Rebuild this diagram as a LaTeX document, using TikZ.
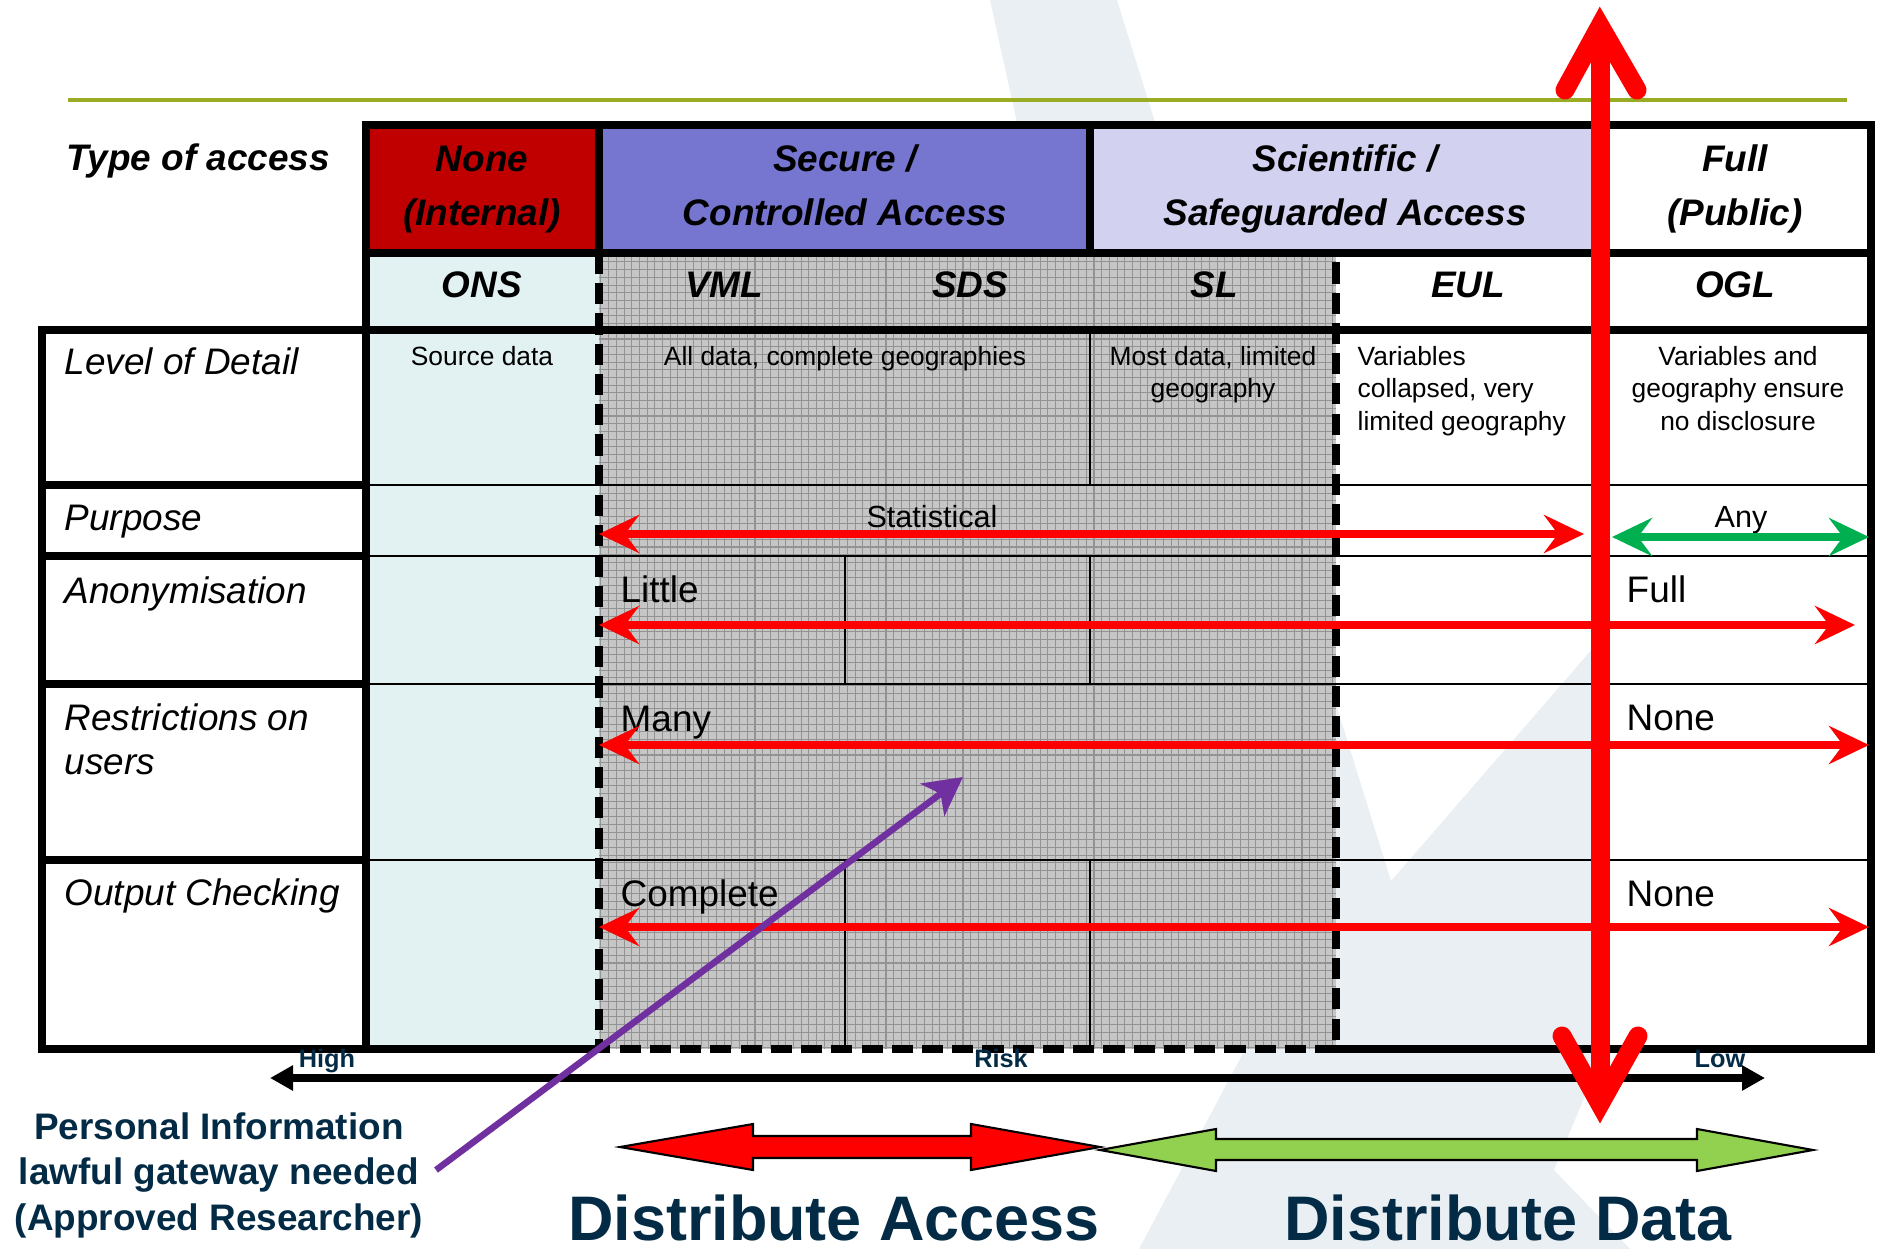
\documentclass[tikz,border=0pt]{standalone}
\usepackage{fontspec}
\setmainfont{Liberation Sans}
\usetikzlibrary{arrows.meta}
\definecolor{nonered}{HTML}{C00000}
\definecolor{securebl}{HTML}{7676D1}
\definecolor{scientbl}{HTML}{D2D2F0}
\definecolor{onscyan}{HTML}{E2F2F2}
\definecolor{safegrey}{HTML}{C6C6C6}
\definecolor{gridgrey}{HTML}{939393}
\definecolor{ruleolive}{HTML}{9AAC24}
\definecolor{anygreen}{HTML}{00B050}
\definecolor{gatepurple}{HTML}{7030A0}
\definecolor{navy}{HTML}{032B45}
\definecolor{datagreen}{HTML}{92D050}
\definecolor{markgrey}{HTML}{EAEFF3}
\tikzset{
  redhead/.tip={Stealth[length=4mm,width=3.8mm,inset=1.4mm]},
  riskhead/.tip={Triangle[length=2.3mm,width=2.4mm]},
  gatehead/.tip={Stealth[length=3.8mm,width=4mm,inset=1mm]},
  thickrule/.style={line width=2.3pt, line cap=rect},
  thinrule/.style={line width=0.7pt},
  dashrule/.style={line width=2.3pt, dash pattern=on 6pt off 2.6pt},
  headtext/.style={font=\fontsize{10.5}{15.6}\selectfont\bfseries\itshape, align=center, anchor=base, inner sep=0pt},
  rowtext/.style={font=\fontsize{10.5}{12.5}\selectfont\itshape, align=left, anchor=base west, inner sep=0pt},
  smalltext/.style={font=\fontsize{7.5}{9.1}\selectfont, align=center, anchor=base, inner sep=0pt},
  celltext/.style={font=\fontsize{10.5}{12.6}\selectfont, anchor=base west, inner sep=0pt},
  risktext/.style={font=\fontsize{7.2}{8}\selectfont\bfseries, text=navy, anchor=base, inner sep=0pt},
  redarrow/.style={red, line width=2.3pt, redhead-redhead},
  bigred/.style={red, line width=5.4pt, line cap=round, line join=miter},
  blockarrow/.style={draw=black, line width=0.6pt}
}
\begin{document}
\begin{tikzpicture}[x=0.01cm, y=-0.01cm]
\useasboundingbox (0,0) rectangle (1879,1249);

% faint watermark behind the table
\fill[markgrey] (990,0) -- (1117,0) -- (1391,881) -- (1600,640) -- (1600,1060) -- (1554,1170) -- (1630,1249) -- (1139,1249) -- (1250,1040) -- (1100,500) -- cycle;
\draw[ruleolive, line width=0.9pt] (68,100) -- (1847,100);

% cell fills
\fill[nonered] (366,125) rectangle (599,253);
\fill[securebl] (599,125) rectangle (1090,253);
\fill[scientbl] (1090,125) rectangle (1600,253);
\fill[onscyan] (366,253) rectangle (599,1049);
\fill[safegrey] (599,253) rectangle (1336,1049);
\draw[gridgrey, line width=0.3pt, step=0.077cm] (599,253) grid (1336,1049);

% table rules
\draw[thickrule] (366,1049) -- (366,125) -- (1871,125) -- (1871,1049) -- (1336,1049);
\draw[thickrule] (599,1049) -- (42,1049) -- (42,330) -- (1871,330);
\draw[thickrule] (366,253) -- (1871,253);
\draw[thickrule] (599,125) -- (599,253);
\draw[thickrule] (1090,125) -- (1090,253);
\draw[thickrule] (1600,125) -- (1600,330);
\foreach \y in {485,556,684,860} {
  \draw[thickrule] (42,\y) -- (366,\y);
  \draw[thinrule] (366,\y) -- (1871,\y);
}
\draw[thinrule] (1090,330) -- (1090,485);
\foreach \x in {845,1090} {
  \draw[thinrule] (\x,556) -- (\x,684);
  \draw[thinrule] (\x,860) -- (\x,1049);
}
\draw[dashrule] (599,253) -- (599,1049) -- (1336,1049) -- (1336,253);

\draw (327,1067) node[risktext] (high) {High};
\draw (1001,1067) node[risktext] (risk) {Risk};
\draw (1720,1067) node[risktext] (low) {Low};

% header (base = last line)
\draw (66,171) node[headtext, anchor=base west] (typeacc) {Type of access};
\draw (482,226) node[headtext] (none) {None\\(Internal)};
\draw (845,226) node[headtext] (secure) {Secure /\\Controlled Access};
\draw (1345,226) node[headtext] (scient) {Scientific /\\Safeguarded Access};
\draw (1735,226) node[headtext] (full) {Full\\(Public)};
\draw (482,298) node[headtext] (ons) {ONS};
\draw (724,298) node[headtext] (vml) {VML};
\draw (970,298) node[headtext] (sds) {SDS};
\draw (1214,298) node[headtext] (sl) {SL};
\draw (1468,298) node[headtext] (eul) {EUL};
\draw (1735,298) node[headtext] (ogl) {OGL};

% row labels
\draw (64,375) node[rowtext] (detail) {Level of Detail};
\draw (64,531) node[rowtext] (purpose) {Purpose};
\draw (64,603) node[rowtext] (anon) {Anonymisation};
\draw (64,774) node[rowtext] (restrict) {Restrictions on\\users};
\draw (64,905) node[rowtext] (output) {Output Checking};

% level of detail cells
\draw (482,366) node[smalltext] (source) {Source data};
\draw (845,366) node[smalltext] (alldata) {All data, complete geographies};
\draw (1213,398) node[smalltext] (mostdata) {Most data, limited\\geography};
\draw (1357,430) node[smalltext, align=left, anchor=base west] (collapsed) {Variables\\collapsed, very\\limited geography};
\draw (1738,430) node[smalltext] (nodiscl) {Variables and\\geography ensure\\no disclosure};

\draw (932,527) node[smalltext, font=\fontsize{8.7}{10}\selectfont] (stat) {Statistical};
\draw (1741,527) node[smalltext, font=\fontsize{8.7}{10}\selectfont] (any) {Any};
\draw (620,602) node[celltext] (little) {Little};
\draw (1626,602) node[celltext] (fullanon) {Full};
\draw (620,731) node[celltext] (many) {Many};
\draw (1626,730) node[celltext] (nonerestr) {None};
\draw (620,906) node[celltext] (complete) {Complete};
\draw (1626,906) node[celltext] (noneout) {None};

% row arrows
\coordinate (purpl) at (599,534);
\coordinate (purpr) at (1584,534);
\coordinate (anyl) at (1612,537);
\coordinate (anyr) at (1869,537);
\coordinate (anonl) at (599,625);
\coordinate (anonr) at (1855,625);
\coordinate (restrl) at (599,745);
\coordinate (restrr) at (1869,745);
\coordinate (outl) at (599,927);
\coordinate (outr) at (1869,927);
\draw[redarrow] (purpl) -- (purpr);
\draw[redarrow, anygreen] (anyl) -- (anyr);
\draw[redarrow] (anonl) -- (anonr);
\draw[redarrow] (restrl) -- (restrr);
\draw[redarrow] (outl) -- (outr);

% risk scale
\coordinate (riskl) at (270,1078);
\coordinate (riskr) at (1765,1078);
\draw[line width=2.3pt, riskhead-riskhead] (riskl) -- (riskr);

% big vertical arrow
\coordinate (uptip) at (1600,26);
\coordinate (upl) at (1565,90);
\coordinate (upr) at (1637,90);
\coordinate (downtip) at (1600,1104);
\coordinate (downl) at (1562,1036);
\coordinate (downr) at (1638,1036);
\draw[bigred, line cap=butt] (uptip) -- (downtip);
\draw[bigred] (upl) -- (uptip) -- (upr);
\draw[bigred] (downl) -- (downtip) -- (downr);

% distribute arrows
\fill[red, blockarrow] (620,1147) -- (753,1124) -- (753,1136) -- (971,1136) -- (971,1124) -- (1100,1147) -- (971,1170) -- (971,1158) -- (753,1158) -- (753,1170) -- cycle;
\fill[datagreen, blockarrow] (1100,1150) -- (1216,1129) -- (1216,1139) -- (1697,1139) -- (1697,1129) -- (1813,1150) -- (1697,1171) -- (1697,1160) -- (1216,1160) -- (1216,1171) -- cycle;
\draw (834,1240) node[anchor=base, inner sep=0pt, font=\fontsize{17.9}{20}\selectfont\bfseries, text=navy] (distacc) {Distribute Access};
\draw (1508,1240) node[anchor=base, inner sep=0pt, font=\fontsize{17.9}{20}\selectfont\bfseries, text=navy] (distdata) {Distribute Data};

% gateway
\draw (219,1230) node[anchor=base, inner sep=0pt, align=center, font=\fontsize{10.5}{12.8}\selectfont\bfseries, text=navy] (gate) {Personal Information\\lawful gateway needed\\(Approved Researcher)};
\coordinate (gatefoot) at (436,1170);
\coordinate (gatetip) at (963,777);
\draw[gatepurple, line width=1.85pt, -gatehead] (gatefoot) -- (gatetip);
\end{tikzpicture}
\end{document}
